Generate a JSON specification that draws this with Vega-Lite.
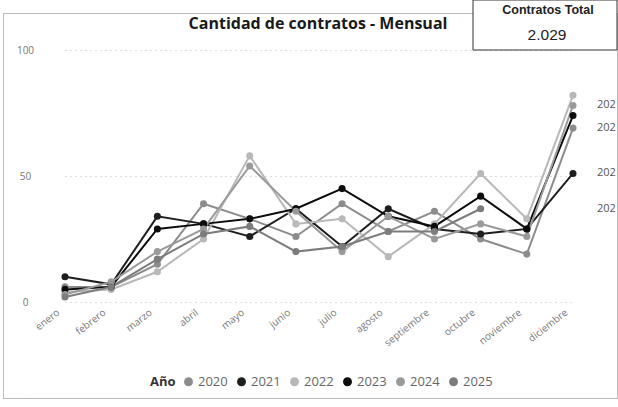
{
  "$schema": "https://vega.github.io/schema/vega-lite/v6.json",
  "width": 614,
  "height": 385,
  "autosize": {"type": "none"},
  "padding": {"left": 3, "top": 13, "right": 1, "bottom": 9},
  "background": "white",
  "config": {
    "view": {"stroke": "#777", "strokeDash": [1, 1], "strokeWidth": 1},
    "font": "Open Sans"
  },
  "title": {
    "text": "Cantidad de contratos - Mensual",
    "anchor": "middle",
    "frame": "group",
    "offset": -45,
    "baseline": "alphabetic",
    "fontSize": 16,
    "fontWeight": "bold",
    "font": "Open Sans",
    "color": "#1a1a1a",
    "dx": 8
  },
  "datasets": {
    "contratos": [
      {"anio": "2020", "mes": "enero", "valor": 6},
      {"anio": "2020", "mes": "febrero", "valor": 6},
      {"anio": "2020", "mes": "marzo", "valor": 15},
      {"anio": "2020", "mes": "abril", "valor": 39},
      {"anio": "2020", "mes": "mayo", "valor": 33},
      {"anio": "2020", "mes": "junio", "valor": 26},
      {"anio": "2020", "mes": "julio", "valor": 39},
      {"anio": "2020", "mes": "agosto", "valor": 28},
      {"anio": "2020", "mes": "septiembre", "valor": 36},
      {"anio": "2020", "mes": "octubre", "valor": 25},
      {"anio": "2020", "mes": "noviembre", "valor": 19},
      {"anio": "2020", "mes": "diciembre", "valor": 69},
      {"anio": "2021", "mes": "enero", "valor": 10},
      {"anio": "2021", "mes": "febrero", "valor": 7},
      {"anio": "2021", "mes": "marzo", "valor": 34},
      {"anio": "2021", "mes": "abril", "valor": 31},
      {"anio": "2021", "mes": "mayo", "valor": 26},
      {"anio": "2021", "mes": "junio", "valor": 37},
      {"anio": "2021", "mes": "julio", "valor": 22},
      {"anio": "2021", "mes": "agosto", "valor": 37},
      {"anio": "2021", "mes": "septiembre", "valor": 29},
      {"anio": "2021", "mes": "octubre", "valor": 27},
      {"anio": "2021", "mes": "noviembre", "valor": 29},
      {"anio": "2021", "mes": "diciembre", "valor": 51},
      {"anio": "2022", "mes": "enero", "valor": 4},
      {"anio": "2022", "mes": "febrero", "valor": 5},
      {"anio": "2022", "mes": "marzo", "valor": 12},
      {"anio": "2022", "mes": "abril", "valor": 25},
      {"anio": "2022", "mes": "mayo", "valor": 58},
      {"anio": "2022", "mes": "junio", "valor": 31},
      {"anio": "2022", "mes": "julio", "valor": 33},
      {"anio": "2022", "mes": "agosto", "valor": 18},
      {"anio": "2022", "mes": "septiembre", "valor": 31},
      {"anio": "2022", "mes": "octubre", "valor": 51},
      {"anio": "2022", "mes": "noviembre", "valor": 33},
      {"anio": "2022", "mes": "diciembre", "valor": 82},
      {"anio": "2023", "mes": "enero", "valor": 5},
      {"anio": "2023", "mes": "febrero", "valor": 6},
      {"anio": "2023", "mes": "marzo", "valor": 29},
      {"anio": "2023", "mes": "abril", "valor": 31},
      {"anio": "2023", "mes": "mayo", "valor": 33},
      {"anio": "2023", "mes": "junio", "valor": 37},
      {"anio": "2023", "mes": "julio", "valor": 45},
      {"anio": "2023", "mes": "agosto", "valor": 34},
      {"anio": "2023", "mes": "septiembre", "valor": 30},
      {"anio": "2023", "mes": "octubre", "valor": 42},
      {"anio": "2023", "mes": "noviembre", "valor": 29},
      {"anio": "2023", "mes": "diciembre", "valor": 74},
      {"anio": "2024", "mes": "enero", "valor": 3},
      {"anio": "2024", "mes": "febrero", "valor": 8},
      {"anio": "2024", "mes": "marzo", "valor": 20},
      {"anio": "2024", "mes": "abril", "valor": 29},
      {"anio": "2024", "mes": "mayo", "valor": 54},
      {"anio": "2024", "mes": "junio", "valor": 36},
      {"anio": "2024", "mes": "julio", "valor": 20},
      {"anio": "2024", "mes": "agosto", "valor": 34},
      {"anio": "2024", "mes": "septiembre", "valor": 25},
      {"anio": "2024", "mes": "octubre", "valor": 31},
      {"anio": "2024", "mes": "noviembre", "valor": 26},
      {"anio": "2024", "mes": "diciembre", "valor": 78},
      {"anio": "2025", "mes": "enero", "valor": 2},
      {"anio": "2025", "mes": "febrero", "valor": 6},
      {"anio": "2025", "mes": "marzo", "valor": 17},
      {"anio": "2025", "mes": "abril", "valor": 27},
      {"anio": "2025", "mes": "mayo", "valor": 30},
      {"anio": "2025", "mes": "junio", "valor": 20},
      {"anio": "2025", "mes": "julio", "valor": 22},
      {"anio": "2025", "mes": "agosto", "valor": 28},
      {"anio": "2025", "mes": "septiembre", "valor": 28},
      {"anio": "2025", "mes": "octubre", "valor": 37}
    ],
    "tarjeta": [{"kpi": "Contratos Total", "total": "2.029"}]
  },
  "layer": [
    {
      "data": {"name": "contratos"},
      "mark": {"type": "line", "strokeWidth": 2},
      "encoding": {
        "x": {
          "field": "mes", "type": "nominal",
          "scale": {"type": "point", "domain": ["enero", "febrero", "marzo", "abril", "mayo", "junio", "julio", "agosto", "septiembre", "octubre", "noviembre", "diciembre"], "range": [62, 570], "padding": 0},
          "axis": {"title": null, "domain": false, "ticks": false, "labelAngle": -38, "labelAlign": "right", "labelBaseline": "middle", "labelColor": "#777", "labelFontSize": 10, "offset": -88, "labelPadding": 1, "labelOffset": -7}
        },
        "y": {
          "field": "valor", "type": "quantitative",
          "scale": {"domain": [0, 100], "range": [289, 37], "nice": false},
          "axis": {"title": null, "domain": false, "ticks": false, "values": [0, 50, 100], "labelColor": "#777", "labelFontSize": 10, "labelAlign": "center", "offset": -38, "labelPadding": 16, "grid": true, "gridColor": "#bdbdbd", "gridDash": [1, 4]}
        },
        "color": {
          "field": "anio", "type": "nominal",
          "scale": {"domain": ["2020", "2021", "2022", "2023", "2024", "2025"], "range": ["#8c8c8c", "#1e1e1e", "#b8b8b8", "#0c0c0c", "#9a9a9a", "#7c7c7c"]},
          "legend": {"orient": "none", "legendX": 147, "legendY": 362, "direction": "horizontal", "title": "Año", "titleOrient": "left", "titleFontSize": 13, "titleFontWeight": "bold", "titleColor": "#333", "titleFont": "Open Sans", "labelFontSize": 13, "labelColor": "#666", "labelFont": "Open Sans", "symbolType": "circle", "symbolSize": 80, "symbolStrokeWidth": 0, "columnPadding": 7, "labelOffset": 3, "titlePadding": 6}
        }
      }
    },
    {
      "data": {"name": "contratos"},
      "mark": {"type": "point", "filled": true, "size": 50, "opacity": 1},
      "encoding": {
        "x": {"field": "mes", "type": "nominal"},
        "y": {"field": "valor", "type": "quantitative"},
        "color": {"field": "anio", "type": "nominal"}
      }
    },
    {
      "data": {"name": "contratos"},
      "transform": [
        {"filter": "(datum.mes == 'diciembre' && (datum.anio == '2020' || datum.anio == '2021' || datum.anio == '2024')) || (datum.anio == '2025' && datum.mes == 'octubre')"}
      ],
      "mark": {"type": "text", "align": "left", "baseline": "middle", "dx": 24, "fontSize": 11, "color": "#555", "limit": 21, "ellipsis": "\u200b"},
      "encoding": {
        "x": {"datum": "diciembre"},
        "y": {"field": "valor", "type": "quantitative"},
        "text": {"field": "anio"}
      }
    },
    {
      "data": {"name": "tarjeta"},
      "mark": {"type": "rect", "fill": "white", "stroke": "#333", "strokeWidth": 1},
      "encoding": {
        "x": {"value": 470},
        "x2": {"value": 614},
        "y": {"value": -13},
        "y2": {"value": 37}
      }
    },
    {
      "data": {"name": "tarjeta"},
      "mark": {"type": "text", "align": "center", "baseline": "middle", "font": "Liberation Sans", "fontWeight": "bold", "fontSize": 12.5, "color": "#222"},
      "encoding": {
        "x": {"value": 545},
        "y": {"value": -3},
        "text": {"field": "kpi"}
      }
    },
    {
      "data": {"name": "tarjeta"},
      "mark": {"type": "text", "align": "center", "baseline": "middle", "font": "Liberation Sans", "fontSize": 15.5, "color": "#222"},
      "encoding": {
        "x": {"value": 544},
        "y": {"value": 22},
        "text": {"field": "total"}
      }
    }
  ]
}
